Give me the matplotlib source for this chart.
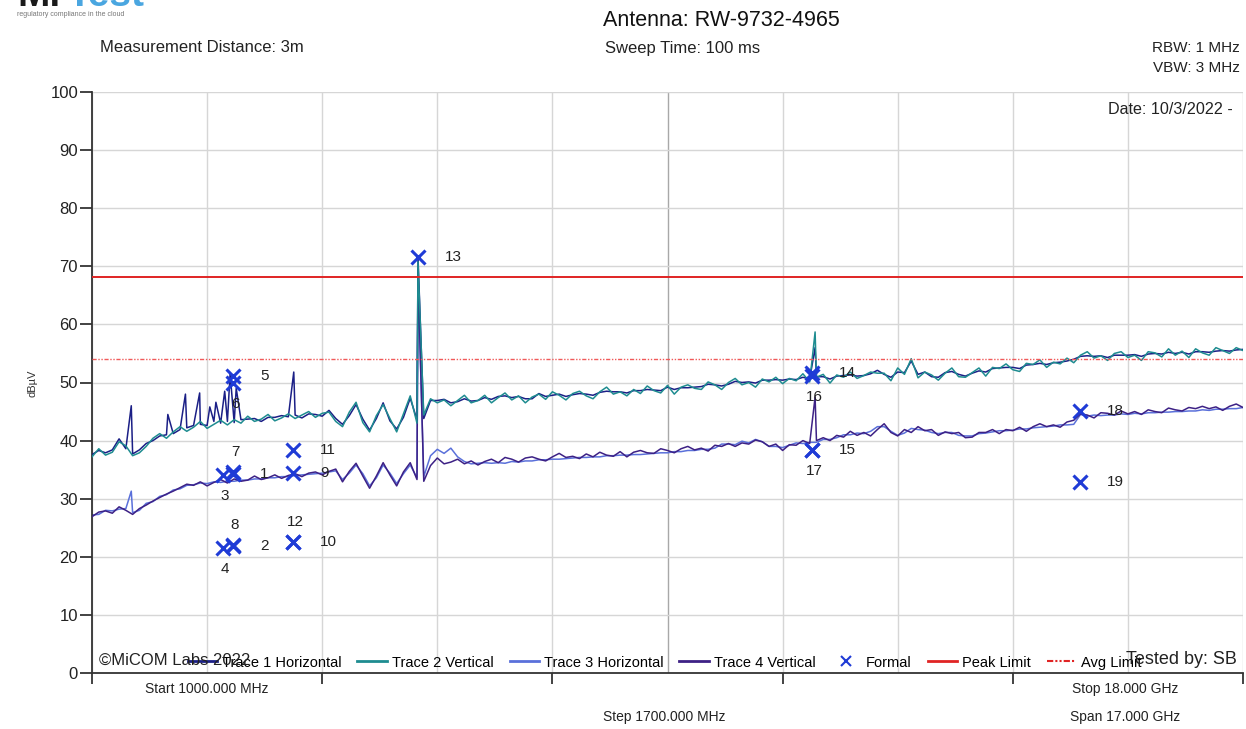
import numpy as np
import matplotlib
matplotlib.use("Agg")
import matplotlib.pyplot as plt
from matplotlib.lines import Line2D

plt.rcParams['font.family'] = ['Liberation Sans', 'DejaVu Sans']

# sweep: 1000 MHz .. 18000 MHz, one reading every 100 MHz
freqs = np.arange(1000, 18001, 100)

trace1_h = [
    37.6, 38.3, 37.9, 38.4, 40.3, 38.6, 37.7, 38.4, 39.5, 40.0,
    40.8, 41.0, 41.2, 41.9, 42.2, 42.6, 42.8, 42.6, 43.3, 43.0,
    43.3, 43.1, 43.6, 43.7, 43.8, 43.3, 44.0, 44.0, 44.3, 44.1,
    44.4, 43.9, 44.6, 44.5, 44.2, 45.2, 43.8, 42.8, 44.3, 46.2,
    43.7, 41.8, 43.8, 46.5, 43.4, 42.0, 44.0, 47.3, 43.6, 43.8,
    46.9, 46.9, 47.1, 46.5, 46.7, 47.2, 46.8, 46.9, 47.4, 47.1,
    47.6, 47.7, 47.4, 47.6, 47.2, 47.2, 48.1, 47.6, 47.8, 48.0,
    47.6, 47.9, 48.1, 48.0, 47.8, 48.3, 48.5, 48.4, 48.4, 48.2,
    48.6, 48.6, 48.8, 48.7, 48.6, 49.2, 48.8, 49.1, 49.1, 49.2,
    49.3, 49.7, 49.6, 49.4, 49.7, 50.2, 50.0, 50.1, 49.9, 50.4,
    50.4, 50.5, 50.4, 50.6, 50.5, 50.9, 50.6, 51.0, 51.0, 50.6,
    51.1, 51.2, 51.3, 51.1, 51.2, 51.5, 52.1, 51.4, 50.9, 51.8,
    51.7, 53.7, 51.4, 51.8, 51.0, 50.9, 51.7, 51.9, 51.4, 51.1,
    51.6, 52.0, 51.8, 52.4, 52.5, 52.6, 52.6, 52.4, 53.0, 53.1,
    53.3, 53.1, 53.4, 53.5, 53.7, 54.0, 54.5, 54.6, 54.5, 54.6,
    54.3, 54.7, 54.7, 54.7, 54.8, 54.5, 54.9, 55.0, 54.9, 55.2,
    55.0, 55.2, 54.9, 55.3, 55.3, 55.2, 55.4, 55.5, 55.4, 55.6,
    55.7,
]
trace2_v = [
    37.2, 38.6, 37.5, 38.0, 39.8, 39.1, 37.4, 37.9, 39.0, 40.4,
    41.2, 40.4, 41.5, 42.4, 41.6, 42.3, 43.3, 42.1, 42.8, 43.5,
    42.7, 43.6, 43.0, 44.2, 43.3, 43.7, 44.5, 43.4, 43.9, 44.6,
    43.8, 44.4, 45.0, 44.0, 44.7, 44.9, 43.3, 42.4, 44.9, 46.6,
    43.1, 41.5, 44.3, 46.2, 43.8, 41.5, 44.6, 47.7, 43.0, 44.4,
    47.2, 46.5, 47.0, 46.0, 46.9, 47.8, 46.5, 46.9, 47.8, 46.5,
    47.4, 48.2, 47.0, 47.7, 46.5, 47.5, 48.0, 47.1, 48.4, 47.8,
    47.0, 48.1, 48.5, 47.7, 47.2, 48.4, 49.2, 48.0, 48.4, 47.7,
    48.8, 48.1, 49.4, 48.6, 48.2, 49.5, 48.0, 49.2, 49.6, 49.0,
    48.8, 50.1, 49.6, 48.8, 50.0, 50.7, 49.6, 50.0, 49.2, 50.6,
    50.1, 50.9, 49.8, 50.7, 50.3, 51.5, 50.1, 50.9, 51.4, 49.9,
    51.3, 50.9, 51.8, 50.7, 51.2, 51.8, 51.6, 51.6, 50.3, 52.5,
    51.4, 54.1, 50.8, 51.8, 51.3, 50.4, 51.6, 52.5, 51.0, 50.9,
    51.7, 52.5, 51.1, 52.6, 52.4, 53.2, 52.2, 51.9, 53.3, 53.1,
    53.9, 52.6, 53.5, 53.2, 54.2, 53.4, 54.7, 55.3, 54.2, 54.6,
    53.8, 55.0, 55.3, 54.3, 54.7, 53.8, 55.3, 55.1, 54.4, 55.8,
    54.7, 55.4, 54.3, 55.8, 55.1, 54.7, 56.0, 55.5, 55.0, 56.0,
    55.5,
]
trace3_h = [
    27.2, 27.3, 28.0, 27.9, 28.2, 28.3, 27.6, 28.0, 29.2, 29.5,
    30.4, 30.7, 31.5, 31.7, 32.3, 32.4, 32.7, 32.6, 32.9, 32.8,
    33.0, 33.0, 33.2, 33.2, 33.4, 33.4, 33.6, 33.6, 33.8, 33.8,
    34.0, 34.1, 34.2, 34.3, 34.4, 34.6, 34.8, 33.3, 34.4, 35.8,
    34.3, 32.2, 33.6, 35.8, 34.4, 32.6, 34.3, 35.8, 33.6, 33.8,
    37.4, 38.5, 37.8, 38.7, 37.2, 36.4, 36.0, 36.1, 36.2, 36.1,
    36.2, 36.1, 36.4, 36.3, 36.5, 36.5, 36.7, 36.7, 36.8, 36.8,
    36.9, 37.0, 37.1, 37.1, 37.2, 37.2, 37.4, 37.4, 37.5, 37.5,
    37.6, 37.6, 37.7, 37.8, 37.9, 37.9, 38.1, 38.1, 38.3, 38.3,
    38.5, 38.5, 38.7, 39.4, 39.4, 39.3, 39.9, 39.6, 40.2, 39.8,
    39.0, 39.0, 38.8, 39.2, 39.6, 39.5, 39.7, 39.7, 40.2, 40.2,
    40.5, 41.0, 41.0, 41.3, 41.2, 41.6, 42.4, 42.4, 41.6, 40.9,
    41.3, 42.1, 41.9, 41.8, 41.4, 41.2, 41.4, 41.4, 40.9, 40.8,
    40.8, 41.2, 41.3, 41.5, 41.7, 41.7, 41.8, 42.0, 42.0, 42.2,
    42.3, 42.4, 42.5, 42.7, 42.7, 42.8, 44.5, 44.2, 44.4, 44.3,
    44.4, 44.4, 44.6, 44.5, 44.7, 44.6, 44.8, 44.8, 44.9, 44.9,
    45.0, 45.0, 45.1, 45.1, 45.3, 45.2, 45.4, 45.4, 45.5, 45.5,
    45.7,
]
trace4_v = [
    26.9, 27.7, 27.9, 27.5, 28.6, 28.0, 27.3, 28.3, 28.9, 29.6,
    30.2, 30.8, 31.3, 31.9, 32.5, 32.3, 32.9, 32.2, 32.8, 33.3,
    32.7, 33.4, 33.0, 33.2, 33.9, 33.3, 33.6, 34.1, 33.5, 34.0,
    34.3, 33.8, 34.4, 34.6, 34.1, 34.7, 35.1, 32.9, 34.7, 36.1,
    33.9, 31.8, 33.9, 36.2, 34.1, 32.2, 34.6, 36.2, 33.3, 33.0,
    35.7, 37.0, 36.0, 36.3, 36.8, 36.0, 36.5, 35.8, 36.4, 36.8,
    36.2, 37.1, 36.8, 36.3, 37.0, 37.2, 36.8, 36.5, 37.2, 37.8,
    37.1, 37.3, 36.9, 37.7, 37.2, 38.0, 37.5, 37.3, 38.1, 37.2,
    38.0, 38.3, 37.9, 37.8, 38.6, 38.3, 37.9, 38.6, 39.0, 38.4,
    38.7, 38.2, 39.2, 39.0, 39.5, 39.0, 39.6, 39.4, 40.1, 39.8,
    39.0, 39.4, 38.3, 39.3, 39.2, 40.0, 39.5, 40.0, 40.5, 40.0,
    40.9, 40.6, 41.6, 40.9, 41.4, 40.8, 41.9, 42.9, 41.4, 40.8,
    41.9, 41.4, 42.4, 41.7, 41.9, 40.9, 41.5, 41.2, 41.4, 40.5,
    40.6, 41.4, 41.4, 41.9, 41.2, 41.9, 41.7, 42.3, 41.6, 42.4,
    42.9, 42.4, 42.7, 42.3, 43.2, 43.5, 44.6, 44.4, 43.9, 44.8,
    44.7, 44.4, 45.1, 44.6, 45.0, 44.5, 45.3, 45.0, 44.8, 45.6,
    45.3, 45.1, 45.7, 45.5, 45.9, 45.5, 45.8, 45.2, 45.9, 46.3,
    45.7,
]

# narrow spurs between sweep points (MHz, dBuV)
spur1_f = [1580, 2120, 2380, 2590, 2740, 2830, 2960, 3040, 3130, 3980, 5815, 11680]
spur1_lv = [46.0, 44.5, 48.0, 48.2, 45.8, 46.6, 48.5, 51.5, 49.0, 51.8, 71.6, 56.0]
spur2_f = [5815, 11680]
spur2_lv = [70.8, 58.7]
spur3_f = [1580, 5815]
spur3_lv = [31.3, 68.0]
spur4_f = [5815, 11680]
spur4_lv = [69.5, 47.5]

peak_limit = 68.2
avg_limit = 54.0

# formal measurement markers
mk_id = [1, 2, 3, 4, 5, 6, 7, 8, 9, 10, 11, 12, 13, 14, 15, 16, 17, 18, 19]
mk_freq = [3083, 3083, 2935, 2935, 3083, 3083, 3083, 3083, 3969, 3969,
           3969, 3969, 5815, 11635, 11635, 11635, 11635, 15594, 15594]
mk_level = [34.3, 21.8, 34.1, 21.6, 51.1, 49.9, 34.6, 22.0, 34.5, 22.6,
            38.3, 22.6, 71.6, 51.6, 38.4, 51.1, 38.4, 45.1, 32.9]
mk_side = ['r', 'r', 'b', 'b', 'r', 'b', 'a', 'a', 'r', 'r',
           'r', 'a', 'r', 'r', 'r', 'b', 'b', 'r', 'r']


def with_spurs(f, lv, sf, slv):
    xs = np.concatenate([f, sf])
    ys = np.concatenate([lv, slv])
    order = np.argsort(xs, kind='stable')
    return xs[order], ys[order]


W, H = 1246, 729
fig = plt.figure(figsize=(W / 100, H / 100), dpi=100)
ax = fig.add_axes([92 / W, 1 - 673 / H, (1243 - 92) / W, (673 - 92) / H])


def ftext(x, y, s, **kw):
    fig.text(x / W, 1 - y / H, s, **kw)


col_t1 = '#1b1f86'
col_t2 = '#1e8c90'
col_t3 = '#5a70da'
col_t4 = '#3d2185'
col_mk = '#1f3bd6'
col_txt = '#222222'

# grid
for f in np.arange(1000, 18001, 1700):
    c = '#a8a8a8' if f == 9500 else '#d6d6d6'
    ax.axvline(f, color=c, lw=1, zorder=0)
for lv in range(10, 101, 10):
    ax.axhline(lv, color='#d6d6d6', lw=1, zorder=0)

x3, y3 = with_spurs(freqs, trace3_h, spur3_f, spur3_lv)
x4, y4 = with_spurs(freqs, trace4_v, spur4_f, spur4_lv)
x1, y1 = with_spurs(freqs, trace1_h, spur1_f, spur1_lv)
x2, y2 = with_spurs(freqs, trace2_v, spur2_f, spur2_lv)
ax.plot(x3, y3, color=col_t3, lw=1.1, zorder=2)
ax.plot(x4, y4, color=col_t4, lw=1.1, zorder=3)
ax.plot(x1, y1, color=col_t1, lw=1.1, zorder=4)
ax.plot(x2, y2, color=col_t2, lw=1.1, zorder=5)

ax.axhline(peak_limit, color='#e02424', lw=1.4, zorder=6)
ax.axhline(avg_limit, color='#f05a5a', lw=1.0, ls=(0, (3, 1.2, 1, 1.2, 1, 1.2)), zorder=6)

ax.plot(mk_freq, mk_level, ls='none', marker='x', ms=10, mew=2.2, color=col_mk, zorder=7)
for i, f, lv, side in zip(mk_id, mk_freq, mk_level, mk_side):
    if side == 'r':
        off, ha, va = (27, 0), 'left', 'center'
    elif side == 'b':
        off, ha, va = (2, -21), 'center', 'center'
    else:
        off, ha, va = (2, 20), 'center', 'center'
    ax.annotate(str(i), (f, lv), xytext=off, textcoords='offset pixels',
                ha=ha, va=va, fontsize=11, color=col_txt, zorder=8)

ax.set_xlim(1000, 18000)
ax.set_ylim(0, 100)
ax.set_yticks(range(0, 101, 10))
ax.set_xticks(np.arange(1000, 18001, 3400))
ax.set_xticklabels([])
ax.tick_params(axis='y', length=9, width=1.2, labelsize=12, colors=col_txt, pad=1)
ax.tick_params(axis='x', length=8, width=1.2, colors=col_txt)
for s in ['top', 'right']:
    ax.spines[s].set_visible(False)
for s in ['left', 'bottom']:
    ax.spines[s].set_color('#333333')
    ax.spines[s].set_linewidth(1.3)
ftext(33, 383, 'dBµV', fontsize=8, color='#333333', rotation=90, ha='center', va='center')

# legend row along the bottom of the plot area
handles = [
    Line2D([], [], color=col_t1, lw=2),
    Line2D([], [], color=col_t2, lw=2),
    Line2D([], [], color=col_t3, lw=2),
    Line2D([], [], color=col_t4, lw=2),
    Line2D([], [], ls='none', marker='x', ms=7, mew=1.5, color=col_mk),
    Line2D([], [], color='#e02424', lw=2),
    Line2D([], [], color='#e02424', lw=1.5, ls=(0, (3, 1, 1, 1, 1, 1))),
]
labels = ['Trace 1 Horizontal', 'Trace 2 Vertical', 'Trace 3 Horizontal',
          'Trace 4 Vertical', 'Formal', 'Peak Limit', 'Avg Limit']
leg = ax.legend(handles, labels, ncol=7, loc='lower left', bbox_to_anchor=(0.083, 0.006),
                frameon=False, fontsize=10.5, handlelength=2.0, handletextpad=0.35,
                columnspacing=1.1, borderaxespad=0, borderpad=0)

ax.text(0.006, 0.008, '©MiCOM Labs 2022', transform=ax.transAxes, fontsize=12,
        color=col_txt, va='bottom', ha='left', zorder=9)
ax.text(0.9948, 0.008, 'Tested by: SB', transform=ax.transAxes, fontsize=13,
        color=col_txt, va='bottom', ha='right', zorder=9)
ax.text(0.9915, 0.983, 'Date: 10/3/2022 -', transform=ax.transAxes, fontsize=11.6,
        color=col_txt, va='top', ha='right', zorder=9)

# header
ftext(17, 6, 'Mi', fontsize=28, fontweight='bold', color='#1a1a1a', va='baseline')
ftext(68, 6, 'Test', fontsize=28, fontweight='bold', color='#4aa6e0', va='baseline')
ftext(17, 14, 'regulatory compliance in the cloud', fontsize=5, color='#777777', va='center')
ftext(603, 20, 'Antenna: RW-9732-4965', fontsize=15.5, color='#111111', va='center')
ftext(100, 48, 'Measurement Distance: 3m', fontsize=12, color=col_txt, va='center')
ftext(605, 48, 'Sweep Time: 100 ms', fontsize=12, color=col_txt, va='center')
ftext(1240, 48, 'RBW: 1 MHz', fontsize=11, color=col_txt, va='center', ha='right')
ftext(1240, 68, 'VBW: 3 MHz', fontsize=11, color=col_txt, va='center', ha='right')

# footer
ftext(145, 689, 'Start 1000.000 MHz', fontsize=10, color=col_txt, va='center')
ftext(1072, 689, 'Stop 18.000 GHz', fontsize=10, color=col_txt, va='center')
ftext(664, 717, 'Step 1700.000 MHz', fontsize=10, color=col_txt, va='center', ha='center')
ftext(1070, 717, 'Span 17.000 GHz', fontsize=10, color=col_txt, va='center')

fig.savefig('out.png', dpi=100, facecolor='white')
